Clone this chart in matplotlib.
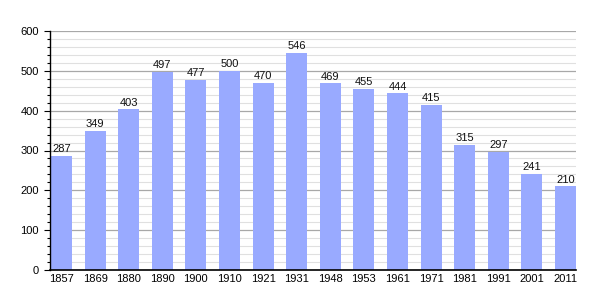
import matplotlib
matplotlib.use("Agg")
import matplotlib.pyplot as plt
from matplotlib.ticker import MultipleLocator

years = ["1857", "1869", "1880", "1890", "1900", "1910", "1921", "1931",
         "1948", "1953", "1961", "1971", "1981", "1991", "2001", "2011"]
population = [287, 349, 403, 497, 477, 500, 470, 546,
              469, 455, 444, 415, 315, 297, 241, 210]

plt.rcParams["font.family"] = ["Liberation Sans", "DejaVu Sans"]

fig = plt.figure(figsize=(6.05, 3.0), dpi=100)
ax = fig.add_axes([50 / 605, 30 / 300, 526 / 605, 239 / 300])

x = range(len(years))
width = 0.625
ax.bar(x, population, width=width, color="#99aaff", zorder=2)
for xi, v in zip(x, population):
    ax.text(xi, v + 4, str(v), ha="center", va="bottom", fontsize=8, color="#111111")

ax.set_ylim(0, 600)
ax.set_xlim(-width / 2 - 0.03, len(years) - 1 + width / 2)
ax.yaxis.set_major_locator(MultipleLocator(100))
ax.yaxis.set_minor_locator(MultipleLocator(20))
ax.grid(axis="y", which="major", color="#a8a8a8", linewidth=0.9, zorder=0)
ax.grid(axis="y", which="minor", color="#e0e0e0", linewidth=0.8, zorder=0)

ax.set_xticks(list(x))
ax.set_xticklabels(years)
ax.tick_params(axis="x", length=0, labelsize=8, pad=3)
ax.tick_params(axis="y", which="major", length=4, width=0.8, labelsize=8, pad=4)
ax.tick_params(axis="y", which="minor", length=2, width=0.8)

for s in ("top", "right"):
    ax.spines[s].set_visible(False)
ax.spines["left"].set_linewidth(1.0)
ax.spines["bottom"].set_linewidth(1.2)

fig.savefig("out.png", dpi=100)
